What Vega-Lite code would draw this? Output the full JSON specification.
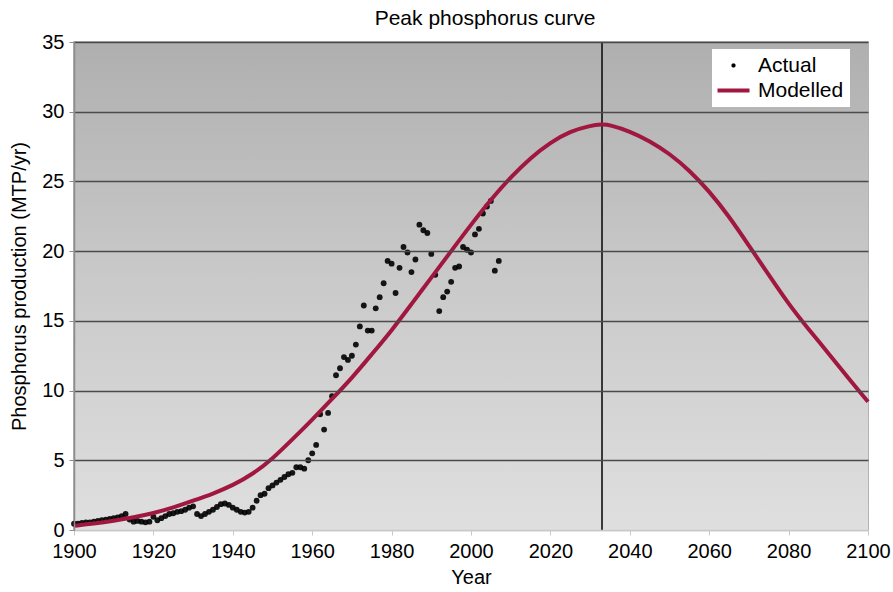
{
  "$schema": "https://vega.github.io/schema/vega-lite/v6.json",
  "width": 794,
  "height": 488,
  "autosize": "none",
  "padding": {"left": 74, "top": 42, "right": 25, "bottom": 62},
  "background": "white",
  "title": {
    "text": "Peak phosphorus curve",
    "anchor": "middle",
    "fontSize": 21,
    "fontWeight": "normal",
    "font": "Liberation Sans",
    "color": "black",
    "offset": 3,
    "dx": 14
  },
  "config": {
    "font": "Liberation Sans",
    "view": {"stroke": "#9a9a9a", "strokeWidth": 1.5},
    "axis": {
      "labelFontSize": 20,
      "titleFontSize": 20,
      "titleFontWeight": "normal",
      "labelColor": "black",
      "titleColor": "black",
      "labelFont": "Liberation Sans",
      "titleFont": "Liberation Sans"
    }
  },
  "datasets": {
    "band": [{"x0": 1900, "x1": 2100, "y0": 0, "y1": 35}],
    "actual": [
      {"year": 1900, "value": 0.45}, {"year": 1901, "value": 0.45}, {"year": 1902, "value": 0.5},
      {"year": 1903, "value": 0.55}, {"year": 1904, "value": 0.55}, {"year": 1905, "value": 0.6},
      {"year": 1906, "value": 0.65}, {"year": 1907, "value": 0.7}, {"year": 1908, "value": 0.75},
      {"year": 1909, "value": 0.8}, {"year": 1910, "value": 0.85}, {"year": 1911, "value": 0.9},
      {"year": 1912, "value": 1.0}, {"year": 1913, "value": 1.15}, {"year": 1914, "value": 0.75},
      {"year": 1915, "value": 0.6}, {"year": 1916, "value": 0.65}, {"year": 1917, "value": 0.6},
      {"year": 1918, "value": 0.55}, {"year": 1919, "value": 0.6}, {"year": 1920, "value": 0.95},
      {"year": 1921, "value": 0.7}, {"year": 1922, "value": 0.85}, {"year": 1923, "value": 1.0},
      {"year": 1924, "value": 1.15}, {"year": 1925, "value": 1.2}, {"year": 1926, "value": 1.3},
      {"year": 1927, "value": 1.35}, {"year": 1928, "value": 1.45}, {"year": 1929, "value": 1.6},
      {"year": 1930, "value": 1.7}, {"year": 1931, "value": 1.15}, {"year": 1932, "value": 1.0},
      {"year": 1933, "value": 1.15}, {"year": 1934, "value": 1.3}, {"year": 1935, "value": 1.45},
      {"year": 1936, "value": 1.65}, {"year": 1937, "value": 1.85}, {"year": 1938, "value": 1.9},
      {"year": 1939, "value": 1.8}, {"year": 1940, "value": 1.6}, {"year": 1941, "value": 1.45},
      {"year": 1942, "value": 1.3}, {"year": 1943, "value": 1.25}, {"year": 1944, "value": 1.3},
      {"year": 1945, "value": 1.6}, {"year": 1946, "value": 2.1}, {"year": 1947, "value": 2.5},
      {"year": 1948, "value": 2.6}, {"year": 1949, "value": 3.0}, {"year": 1950, "value": 3.2},
      {"year": 1951, "value": 3.4}, {"year": 1952, "value": 3.6}, {"year": 1953, "value": 3.8},
      {"year": 1954, "value": 4.0}, {"year": 1955, "value": 4.1}, {"year": 1956, "value": 4.5},
      {"year": 1957, "value": 4.5}, {"year": 1958, "value": 4.4}, {"year": 1959, "value": 5.0},
      {"year": 1960, "value": 5.5}, {"year": 1961, "value": 6.1}, {"year": 1962, "value": 8.3},
      {"year": 1963, "value": 7.2}, {"year": 1964, "value": 8.4}, {"year": 1965, "value": 9.6},
      {"year": 1966, "value": 11.1}, {"year": 1967, "value": 11.6}, {"year": 1968, "value": 12.4},
      {"year": 1969, "value": 12.2}, {"year": 1970, "value": 12.5}, {"year": 1971, "value": 13.3},
      {"year": 1972, "value": 14.6}, {"year": 1973, "value": 16.1}, {"year": 1974, "value": 14.3},
      {"year": 1975, "value": 14.3}, {"year": 1976, "value": 15.9}, {"year": 1977, "value": 16.7},
      {"year": 1978, "value": 17.7}, {"year": 1979, "value": 19.3}, {"year": 1980, "value": 19.1},
      {"year": 1981, "value": 17.0}, {"year": 1982, "value": 18.8}, {"year": 1983, "value": 20.3},
      {"year": 1984, "value": 19.9}, {"year": 1985, "value": 18.5}, {"year": 1986, "value": 19.4},
      {"year": 1987, "value": 21.9}, {"year": 1988, "value": 21.5}, {"year": 1989, "value": 21.3},
      {"year": 1990, "value": 19.8}, {"year": 1991, "value": 18.3}, {"year": 1992, "value": 15.7},
      {"year": 1993, "value": 16.7}, {"year": 1994, "value": 17.1}, {"year": 1995, "value": 17.8},
      {"year": 1996, "value": 18.8}, {"year": 1997, "value": 18.9}, {"year": 1998, "value": 20.3},
      {"year": 1999, "value": 20.1}, {"year": 2000, "value": 19.9}, {"year": 2001, "value": 21.2},
      {"year": 2002, "value": 21.6}, {"year": 2003, "value": 22.7}, {"year": 2004, "value": 23.2},
      {"year": 2005, "value": 23.6}, {"year": 2006, "value": 18.6}, {"year": 2007, "value": 19.3}
    ],
    "modelled": [
      {"year": 1900, "value": 0.3}, {"year": 1905, "value": 0.45}, {"year": 1910, "value": 0.65},
      {"year": 1915, "value": 0.9}, {"year": 1920, "value": 1.2}, {"year": 1925, "value": 1.6},
      {"year": 1930, "value": 2.1}, {"year": 1935, "value": 2.6}, {"year": 1940, "value": 3.2},
      {"year": 1945, "value": 4.0}, {"year": 1950, "value": 5.1}, {"year": 1955, "value": 6.5},
      {"year": 1960, "value": 7.9}, {"year": 1965, "value": 9.4}, {"year": 1970, "value": 10.9},
      {"year": 1975, "value": 12.6}, {"year": 1980, "value": 14.3}, {"year": 1985, "value": 16.2},
      {"year": 1990, "value": 18.1}, {"year": 1995, "value": 20.0}, {"year": 2000, "value": 21.9},
      {"year": 2005, "value": 23.7}, {"year": 2010, "value": 25.3}, {"year": 2015, "value": 26.7},
      {"year": 2020, "value": 27.8}, {"year": 2025, "value": 28.6}, {"year": 2030, "value": 29.0},
      {"year": 2033, "value": 29.1}, {"year": 2035, "value": 29.05}, {"year": 2040, "value": 28.6},
      {"year": 2045, "value": 27.9}, {"year": 2050, "value": 27.0}, {"year": 2055, "value": 25.8},
      {"year": 2060, "value": 24.3}, {"year": 2065, "value": 22.5}, {"year": 2070, "value": 20.4},
      {"year": 2075, "value": 18.3}, {"year": 2080, "value": 16.2}, {"year": 2085, "value": 14.4},
      {"year": 2090, "value": 12.7}, {"year": 2095, "value": 10.9}, {"year": 2100, "value": 9.2}
    ],
    "peak": [{"year": 2033}]
  },
  "layer": [
    {
      "description": "Shaded plot background, darker at the top",
      "data": {"name": "band"},
      "mark": {
        "type": "rect",
        "color": {
          "gradient": "linear",
          "x1": 0, "y1": 0, "x2": 0, "y2": 1,
          "stops": [
            {"offset": 0, "color": "#afafaf"},
            {"offset": 0.5, "color": "#cacaca"},
            {"offset": 1, "color": "#dfdfdf"}
          ]
        }
      },
      "encoding": {
        "x": {"field": "x0", "type": "quantitative", "scale": {"domain": [1900, 2100], "nice": false, "zero": false}},
        "x2": {"field": "x1"},
        "y": {"field": "y0", "type": "quantitative", "scale": {"domain": [0, 35], "nice": false}},
        "y2": {"field": "y1"}
      }
    },
    {
      "data": {"name": "peak"},
      "mark": {"type": "rule", "color": "#111111", "strokeWidth": 1.6},
      "encoding": {
        "x": {"field": "year", "type": "quantitative"}
      }
    },
    {
      "data": {"name": "actual"},
      "mark": {"type": "point", "filled": true, "size": 34, "opacity": 0.9, "color": "#000000"},
      "encoding": {
        "x": {
          "field": "year", "type": "quantitative",
          "axis": {
            "title": "Year",
            "values": [1900, 1920, 1940, 1960, 1980, 2000, 2020, 2040, 2060, 2080, 2100],
            "format": "d",
            "grid": false,
            "labelFlush": false,
            "labelOverlap": false,
            "domainColor": "#c8c8c8",
            "domainWidth": 1.5,
            "tickColor": "#c8c8c8",
            "tickSize": 5,
            "labelPadding": 6,
            "titlePadding": 6
          }
        },
        "y": {
          "field": "value", "type": "quantitative",
          "axis": {
            "title": "Phosphorus production (MTP/yr)",
            "values": [0, 5, 10, 15, 20, 25, 30, 35],
            "grid": true,
            "gridColor": {"condition": {"test": "datum.value === 0", "value": "#c8c8c8"}, "value": "#4a4a4a"},
            "gridWidth": 1.6,
            "gridOpacity": 1,
            "zindex": 1,
            "labelFlush": false,
            "labelOverlap": false,
            "domainColor": "#8c8c8c",
            "domainWidth": 1.5,
            "tickColor": "#8c8c8c",
            "tickSize": 5,
            "labelPadding": 5,
            "titlePadding": 12
          }
        }
      }
    },
    {
      "data": {"name": "modelled"},
      "mark": {"type": "line", "strokeWidth": 4, "interpolate": "basis"},
      "encoding": {
        "x": {"field": "year", "type": "quantitative"},
        "y": {"field": "value", "type": "quantitative"},
        "color": {
          "datum": "Modelled",
          "scale": {"domain": ["Actual", "Modelled"], "range": ["#000000", "#a0173f"]},
          "legend": {
            "title": null,
            "orient": "none",
            "legendX": 638,
            "legendY": 7,
            "fillColor": "white",
            "padding": 6,
            "labelFontSize": 21,
            "labelColor": "black",
            "symbolOffset": 5,
            "labelOffset": 14,
            "rowPadding": 3,
            "symbolSize": 100,
            "symbolStrokeWidth": 4,
            "symbolType": {"expr": "datum.value === 'Actual' ? 'M-0.25,0L0.25,0M0,-0.25L0,0.25M-0.18,-0.18L0.18,0.18M-0.18,0.18L0.18,-0.18' : 'M-3.2,0L3.2,0'"}
          }
        }
      }
    }
  ]
}
